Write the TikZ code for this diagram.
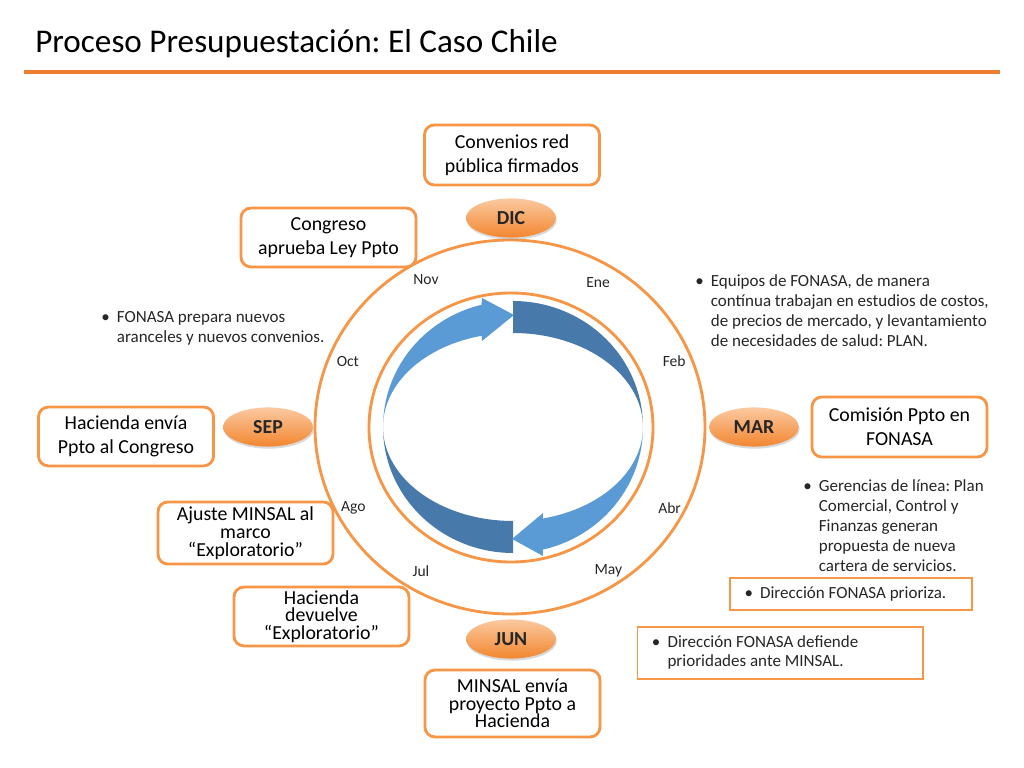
\documentclass[tikz,border=0pt]{standalone}
\usepackage{fontspec}
\setmainfont{Carlito}
\usetikzlibrary{shapes.geometric,shadows}
\frenchspacing
\definecolor{ringorange}{HTML}{F79646}
\definecolor{lineorange}{HTML}{ED7D31}
\definecolor{lightblue}{HTML}{5B9BD5}
\definecolor{darkblue}{HTML}{477AAB}
\definecolor{elltop}{HTML}{FBC9A0}
\definecolor{ellbottom}{HTML}{F28630}
\definecolor{textgray}{HTML}{262626}
\newcommand{\itm}{\makebox[11pt][l]{\textbullet}}
\tikzset{
  ring/.style={draw=ringorange, line width=2pt},
  box/.style={draw=ringorange, line width=2pt, rounded corners=7pt, fill=white,
    align=center, inner sep=1pt, minimum width=4.34cm, font=\fontsize{14}{17}\selectfont},
  tightbox/.style={box, font=\fontsize{14}{12.5}\selectfont},
  note/.style={draw=ringorange, line width=1.3pt, align=left, inner xsep=0.36cm,
    inner ysep=0pt, font=\fontsize{12}{14}\selectfont, text=textgray,
    execute at begin node={\spaceskip=0pt\xspaceskip=0pt\relax}},
  bullets/.style={anchor=base west, inner sep=0pt, align=left,
    font=\fontsize{12}{14}\selectfont, text=textgray},
  mes/.style={ellipse, minimum width=2.23cm, minimum height=0.97cm, top color=elltop,
    bottom color=ellbottom, font=\fontsize{14}{17}\selectfont\bfseries, text=textgray,
    drop shadow={opacity=0.3, shadow xshift=0.5pt, shadow yshift=-1.5pt}},
  month/.style={font=\fontsize{11}{13}\selectfont, text=textgray}
}
\begin{document}
\begin{tikzpicture}[x=0.0248cm,y=0.0248cm]
  \useasboundingbox (0,0) rectangle (1024,768);
  \node[anchor=base west, inner sep=0pt, font=\fontsize{23.4}{28}\selectfont] (titulo) at (35,715)
    {Proceso Presupuestación: El Caso Chile};
  \draw[lineorange, line width=2.8pt] (24,696) -- (1000,696);

  \draw[ring] (510,341) ellipse [x radius=195, y radius=187];
  \draw[ring] (511,340.5) ellipse [x radius=142, y radius=134.5];

  \fill[darkblue] plot[domain=90:0, samples=40] ({513+130*cos(\x)},{341+126*sin(\x)})
    -- plot[domain=0:90, samples=40] ({513+130*cos(\x)},{341+94*sin(\x)}) -- cycle;
  \fill[darkblue] plot[domain=270:180, samples=40] ({513+130*cos(\x)},{341+126*sin(\x)})
    -- plot[domain=180:270, samples=40] ({513+130*cos(\x)},{341+94*sin(\x)}) -- cycle;
  \fill[lightblue] plot[domain=180:104, samples=40] ({513+130*cos(\x)},{341+126*sin(\x)})
    -- (482,470) -- (514,453) -- (482,427)
    -- plot[domain=104:180, samples=40] ({513+130*cos(\x)},{341+94*sin(\x)}) -- cycle;
  \fill[lightblue] plot[domain=0:-76.7, samples=40] ({513+130*cos(\x)},{341+126*sin(\x)})
    -- (543,212) -- (512,229) -- (543,255)
    -- plot[domain=-76.7:0, samples=40] ({513+130*cos(\x)},{341+94*sin(\x)}) -- cycle;

  \draw[shift={(511,341)}]
    (59:169) node[month] (ene){Ene}
    (22:176) node[month] (feb){Feb}
    (333:178) node[month] (abr){Abr}
    (304:174) node[month] (may){May}
    (238:170) node[month] (jul){Jul}
    (207:177) node[month] (ago){Ago}
    (158:176) node[month] (oct){Oct}
    (120:170) node[month] (nov){Nov};

  \draw[shift={(511,341)}]
    (90:209) node[mes] (dic){DIC}
    (0:243) node[mes] (mar){MAR}
    (270:212) node[mes] (jun){JUN}
    (180:243) node[mes] (sep){SEP};

  \node[box, minimum height=1.49cm] (convenios) at (512,613) {Convenios red\\pública firmados};
  \node[box, minimum height=1.46cm] (congreso) at (328.5,530.5) {Congreso\\aprueba Ley Ppto};
  \node[box, minimum height=1.46cm] (envia) at (126,331.5) {Hacienda envía\\Ppto al Congreso};
  \node[tightbox, minimum height=1.54cm] (ajuste) at (245.5,235) {Ajuste MINSAL al\\marco\\“Exploratorio”};
  \node[tightbox, minimum height=1.46cm] (devuelve) at (321.5,151.5) {Hacienda\\devuelve\\“Exploratorio”};
  \node[tightbox, minimum height=1.66cm] (minsal) at (512.5,64.5) {MINSAL envía\\proyecto Ppto a\\Hacienda};
  \node[box, minimum height=1.49cm] (comision) at (899.5,341) {Comisión Ppto en\\FONASA};

  \node[note, text width=5.28cm, minimum height=0.79cm] (prioriza) at (851,174)
    {\itm Dirección FONASA prioriza.};
  \node[note, text width=6.35cm, minimum height=1.29cm] (defiende) at (780,115)
    {\begin{tabular}{@{}l@{}l@{}}\itm & Dirección FONASA defiende\\ & prioridades ante MINSAL.\end{tabular}};

  \node[bullets] (equipos) at (695,481)
    {\begin{tabular}[t]{@{}l@{}l@{}}\itm & Equipos de FONASA, de manera\\
      & contínua trabajan en estudios de costos,\\
      & de precios de mercado, y levantamiento\\
      & de necesidades de salud: PLAN.\end{tabular}};
  \node[bullets] (aranceles) at (101,445)
    {\begin{tabular}[t]{@{}l@{}l@{}}\itm & FONASA prepara nuevos\\
      & aranceles y nuevos convenios.\end{tabular}};
  \node[bullets] (gerencias) at (803,276)
    {\begin{tabular}[t]{@{}l@{}l@{}}\itm & Gerencias de línea: Plan\\
      & Comercial, Control y\\
      & Finanzas generan\\
      & propuesta de nueva\\
      & cartera de servicios.\end{tabular}};
\end{tikzpicture}
\end{document}
